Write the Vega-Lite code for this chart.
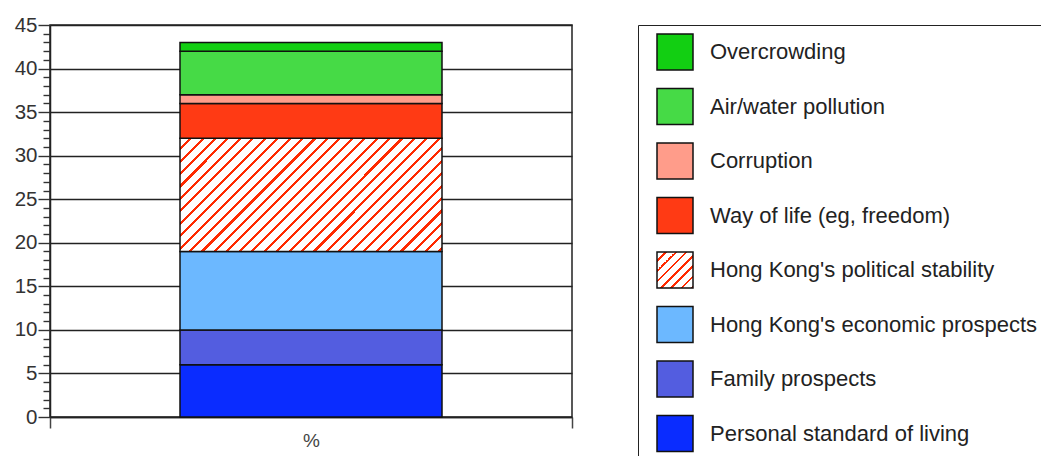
{
  "$schema": "https://vega.github.io/schema/vega-lite/v6.json",
  "width": 522,
  "height": 392,
  "autosize": {"type": "none"},
  "padding": {"left": 50, "top": 25, "right": 469, "bottom": 39},
  "background": "white",
  "config": {"view": {"stroke": "#222", "strokeWidth": 1.5}, "font": "Liberation Sans"},
  "data": {"values": [
    {"cat": "Personal standard of living", "ord": 1, "value": 6, "x": "%"},
    {"cat": "Family prospects", "ord": 2, "value": 4, "x": "%"},
    {"cat": "Hong Kong's economic prospects", "ord": 3, "value": 9, "x": "%"},
    {"cat": "Hong Kong's political stability", "ord": 4, "value": 13, "x": "%"},
    {"cat": "Way of life (eg, freedom)", "ord": 5, "value": 4, "x": "%"},
    {"cat": "Corruption", "ord": 6, "value": 1, "x": "%"},
    {"cat": "Air/water pollution", "ord": 7, "value": 5, "x": "%"},
    {"cat": "Overcrowding", "ord": 8, "value": 1, "x": "%"}
  ]},
  "mark": {"type": "bar", "size": 262, "stroke": "#111", "strokeWidth": 1.5},
  "encoding": {
    "x": {"field": "x", "type": "nominal", "scale": {"paddingInner": 0, "paddingOuter": 0},
      "axis": {"title": null, "labelAngle": 0, "domainColor": "#222", "domainWidth": 1.5, "tickBand": "extent", "tickSize": 11, "tickColor": "#444", "tickWidth": 1.5, "labelFontSize": 19, "labelColor": "#444", "labelPadding": 3, "grid": false}},
    "y": {"field": "value", "type": "quantitative", "stack": "zero", "scale": {"domain": [0, 45], "nice": false},
      "axis": {"title": null,
        "values": [0,1,2,3,4,5,6,7,8,9,10,11,12,13,14,15,16,17,18,19,20,21,22,23,24,25,26,27,28,29,30,31,32,33,34,35,36,37,38,39,40,41,42,43,44,45],
        "labelExpr": "datum.value % 5 === 0 ? datum.label : ''",
        "labelOverlap": false, "labelFlush": false,
        "tickSize": {"condition": {"test": "datum.value % 5 === 0", "value": 12}, "value": 7},
        "tickWidth": 1.4,
        "tickColor": "#333",
        "grid": true, "gridColor": "#222", "gridWidth": 1.5,
        "gridOpacity": {"condition": {"test": "datum.value % 5 === 0", "value": 1}, "value": 0},
        "domainColor": "#222", "domainWidth": 1.5,
        "labelFontSize": 20.5, "labelColor": "#333", "labelPadding": 1}},
    "order": {"field": "ord", "type": "quantitative"},
    "color": {
      "field": "cat", "type": "nominal",
      "condition": {"test": "datum.ord === 4", "value": {"gradient": "linear", "x1": 0, "y1": 0, "x2": 1.25, "y2": 0.54, "stops": [
        {"offset": 0, "color": "white"}, {"offset": 0.024, "color": "white"}, {"offset": 0.024, "color": "#ff2a00"}, {"offset": 0.032, "color": "#ff2a00"},
        {"offset": 0.032, "color": "white"}, {"offset": 0.056, "color": "white"}, {"offset": 0.056, "color": "#ff2a00"}, {"offset": 0.064, "color": "#ff2a00"},
        {"offset": 0.064, "color": "white"}, {"offset": 0.088, "color": "white"}, {"offset": 0.088, "color": "#ff2a00"}, {"offset": 0.096, "color": "#ff2a00"},
        {"offset": 0.096, "color": "white"}, {"offset": 0.12, "color": "white"}, {"offset": 0.12, "color": "#ff2a00"}, {"offset": 0.128, "color": "#ff2a00"},
        {"offset": 0.128, "color": "white"}, {"offset": 0.152, "color": "white"}, {"offset": 0.152, "color": "#ff2a00"}, {"offset": 0.16, "color": "#ff2a00"},
        {"offset": 0.16, "color": "white"}, {"offset": 0.184, "color": "white"}, {"offset": 0.184, "color": "#ff2a00"}, {"offset": 0.192, "color": "#ff2a00"},
        {"offset": 0.192, "color": "white"}, {"offset": 0.216, "color": "white"}, {"offset": 0.216, "color": "#ff2a00"}, {"offset": 0.224, "color": "#ff2a00"},
        {"offset": 0.224, "color": "white"}, {"offset": 0.248, "color": "white"}, {"offset": 0.248, "color": "#ff2a00"}, {"offset": 0.256, "color": "#ff2a00"},
        {"offset": 0.256, "color": "white"}, {"offset": 0.28, "color": "white"}, {"offset": 0.28, "color": "#ff2a00"}, {"offset": 0.288, "color": "#ff2a00"},
        {"offset": 0.288, "color": "white"}, {"offset": 0.312, "color": "white"}, {"offset": 0.312, "color": "#ff2a00"}, {"offset": 0.32, "color": "#ff2a00"},
        {"offset": 0.32, "color": "white"}, {"offset": 0.344, "color": "white"}, {"offset": 0.344, "color": "#ff2a00"}, {"offset": 0.352, "color": "#ff2a00"},
        {"offset": 0.352, "color": "white"}, {"offset": 0.376, "color": "white"}, {"offset": 0.376, "color": "#ff2a00"}, {"offset": 0.384, "color": "#ff2a00"},
        {"offset": 0.384, "color": "white"}, {"offset": 0.408, "color": "white"}, {"offset": 0.408, "color": "#ff2a00"}, {"offset": 0.416, "color": "#ff2a00"},
        {"offset": 0.416, "color": "white"}, {"offset": 0.44, "color": "white"}, {"offset": 0.44, "color": "#ff2a00"}, {"offset": 0.448, "color": "#ff2a00"},
        {"offset": 0.448, "color": "white"}, {"offset": 0.472, "color": "white"}, {"offset": 0.472, "color": "#ff2a00"}, {"offset": 0.48, "color": "#ff2a00"},
        {"offset": 0.48, "color": "white"}, {"offset": 0.504, "color": "white"}, {"offset": 0.504, "color": "#ff2a00"}, {"offset": 0.512, "color": "#ff2a00"},
        {"offset": 0.512, "color": "white"}, {"offset": 0.536, "color": "white"}, {"offset": 0.536, "color": "#ff2a00"}, {"offset": 0.544, "color": "#ff2a00"},
        {"offset": 0.544, "color": "white"}, {"offset": 0.568, "color": "white"}, {"offset": 0.568, "color": "#ff2a00"}, {"offset": 0.576, "color": "#ff2a00"},
        {"offset": 0.576, "color": "white"}, {"offset": 0.6, "color": "white"}, {"offset": 0.6, "color": "#ff2a00"}, {"offset": 0.608, "color": "#ff2a00"},
        {"offset": 0.608, "color": "white"}, {"offset": 0.632, "color": "white"}, {"offset": 0.632, "color": "#ff2a00"}, {"offset": 0.64, "color": "#ff2a00"},
        {"offset": 0.64, "color": "white"}, {"offset": 0.664, "color": "white"}, {"offset": 0.664, "color": "#ff2a00"}, {"offset": 0.672, "color": "#ff2a00"},
        {"offset": 0.672, "color": "white"}, {"offset": 0.696, "color": "white"}, {"offset": 0.696, "color": "#ff2a00"}, {"offset": 0.704, "color": "#ff2a00"},
        {"offset": 0.704, "color": "white"}, {"offset": 0.728, "color": "white"}, {"offset": 0.728, "color": "#ff2a00"}, {"offset": 0.736, "color": "#ff2a00"},
        {"offset": 0.736, "color": "white"}, {"offset": 0.76, "color": "white"}, {"offset": 0.76, "color": "#ff2a00"}, {"offset": 0.768, "color": "#ff2a00"},
        {"offset": 0.768, "color": "white"}, {"offset": 0.792, "color": "white"}, {"offset": 0.792, "color": "#ff2a00"}, {"offset": 0.8, "color": "#ff2a00"},
        {"offset": 0.8, "color": "white"}, {"offset": 0.824, "color": "white"}, {"offset": 0.824, "color": "#ff2a00"}, {"offset": 0.832, "color": "#ff2a00"},
        {"offset": 0.832, "color": "white"}, {"offset": 0.856, "color": "white"}, {"offset": 0.856, "color": "#ff2a00"}, {"offset": 0.864, "color": "#ff2a00"},
        {"offset": 0.864, "color": "white"}, {"offset": 0.888, "color": "white"}, {"offset": 0.888, "color": "#ff2a00"}, {"offset": 0.896, "color": "#ff2a00"},
        {"offset": 0.896, "color": "white"}, {"offset": 0.92, "color": "white"}, {"offset": 0.92, "color": "#ff2a00"}, {"offset": 0.928, "color": "#ff2a00"},
        {"offset": 0.928, "color": "white"}, {"offset": 0.952, "color": "white"}, {"offset": 0.952, "color": "#ff2a00"}, {"offset": 0.96, "color": "#ff2a00"},
        {"offset": 0.96, "color": "white"}, {"offset": 0.984, "color": "white"}, {"offset": 0.984, "color": "#ff2a00"}, {"offset": 0.992, "color": "#ff2a00"},
        {"offset": 0.992, "color": "white"}, {"offset": 1, "color": "white"}
      ]}},
      "scale": {
        "domain": ["Overcrowding", "Air/water pollution", "Corruption", "Way of life (eg, freedom)", "Hong Kong's political stability", "Hong Kong's economic prospects", "Family prospects", "Personal standard of living"],
        "range": ["#12cf12", "#46da46", "#ff9c8a", "#ff3a14",
          {"expr": "{gradient: 'linear', x1: 0, y1: 0, x2: 1, y2: 1, stops: [{offset: 0, color: 'white'}, {offset: 0.107, color: 'white'}, {offset: 0.107, color: '#ff2a00'}, {offset: 0.1429, color: '#ff2a00'}, {offset: 0.1429, color: 'white'}, {offset: 0.25, color: 'white'}, {offset: 0.25, color: '#ff2a00'}, {offset: 0.2857, color: '#ff2a00'}, {offset: 0.2857, color: 'white'}, {offset: 0.393, color: 'white'}, {offset: 0.393, color: '#ff2a00'}, {offset: 0.4286, color: '#ff2a00'}, {offset: 0.4286, color: 'white'}, {offset: 0.536, color: 'white'}, {offset: 0.536, color: '#ff2a00'}, {offset: 0.5714, color: '#ff2a00'}, {offset: 0.5714, color: 'white'}, {offset: 0.679, color: 'white'}, {offset: 0.679, color: '#ff2a00'}, {offset: 0.7143, color: '#ff2a00'}, {offset: 0.7143, color: 'white'}, {offset: 0.821, color: 'white'}, {offset: 0.821, color: '#ff2a00'}, {offset: 0.8571, color: '#ff2a00'}, {offset: 0.8571, color: 'white'}, {offset: 0.964, color: 'white'}, {offset: 0.964, color: '#ff2a00'}, {offset: 1, color: '#ff2a00'}]}"},
          "#6cb8ff", "#535de0", "#0a2cff"]
      },
      "legend": {
        "orient": "none", "legendX": 588, "legendY": 0, "title": null,
        "strokeColor": "#222", "padding": 8,
        "symbolOffset": 10, "symbolType": "square", "symbolSize": 1296,
        "symbolStrokeColor": "#111", "symbolStrokeWidth": 1.5, "symbolOpacity": 1,
        "labelFontSize": 22, "labelColor": "#222", "labelOffset": 16, "rowPadding": 12.5, "labelLimit": 600
      }
    }
  }
}
